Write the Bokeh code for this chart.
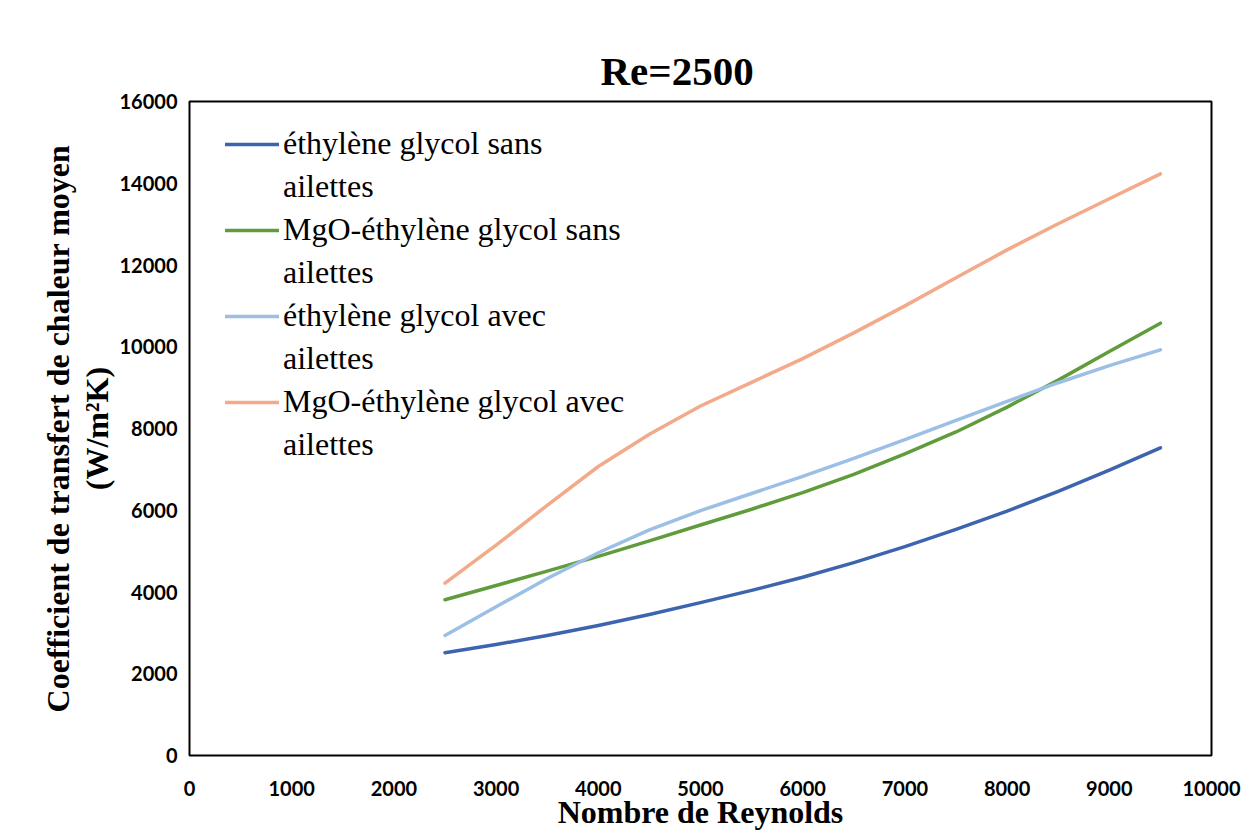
from bokeh.plotting import figure
from bokeh.models import Range1d, FixedTicker, LinearAxis, Legend, LegendItem, ColumnDataSource
from bokeh.embed import file_html
from bokeh.resources import INLINE

# ---- data ----
reynolds = [2500, 3000, 3500, 4000, 4500, 5000, 5500, 6000, 6500, 7000, 7500, 8000, 8500, 9000, 9500]
eg_sans = [2513, 2715, 2935, 3180, 3450, 3740, 4040, 4360, 4720, 5110, 5530, 5980, 6460, 6980, 7528]
mgo_eg_sans = [3809, 4160, 4510, 4870, 5250, 5640, 6025, 6430, 6880, 7380, 7915, 8524, 9184, 9884, 10576]
eg_avec = [2936, 3640, 4330, 4960, 5520, 5990, 6410, 6830, 7270, 7730, 8200, 8665, 9120, 9540, 9925]
mgo_eg_avec = [4215, 5145, 6120, 7070, 7860, 8550, 9130, 9710, 10340, 11000, 11690, 12370, 13010, 13620, 14231]

series_labels = ["éthylène glycol sans", "MgO-éthylène glycol sans",
                 "éthylène glycol avec", "MgO-éthylène glycol avec"]
series_labels2 = ["ailettes", "ailettes", "ailettes", "ailettes"]
series_values = [eg_sans, mgo_eg_sans, eg_avec, mgo_eg_avec]
series_colors = ["#3D64AE", "#619C3C", "#9BBFE5", "#F2AA8A"]

x_ticks = [0, 1000, 2000, 3000, 4000, 5000, 6000, 7000, 8000, 9000, 10000]
y_ticks = [0, 2000, 4000, 6000, 8000, 10000, 12000, 14000, 16000]

p = figure(width=1250, height=835, output_backend="svg", toolbar_location=None,
           x_range=Range1d(0, 10000), y_range=Range1d(0, 16000),
           min_border_left=189, min_border_right=39, min_border_top=101, min_border_bottom=80)

p.title.text = "Re=2500"
p.title.align = "left"
p.title.text_font = "Liberation Serif"
p.title.text_font_style = "bold"
p.title.text_font_size = "41px"
p.title.text_color = "black"
p.title.offset = 411
p.title.standoff = 16

p.xgrid.visible = False
p.ygrid.visible = False
p.outline_line_color = "black"
p.outline_line_width = 2
p.background_fill_color = "white"
p.border_fill_color = "white"

tick_font = "Lato"
for ax in (p.xaxis[0], p.yaxis[0]):
    ax.axis_line_color = None
    ax.major_tick_line_color = None
    ax.minor_tick_line_color = None
    ax.major_tick_out = 0
    ax.major_tick_in = 0
    ax.minor_tick_out = 0
    ax.minor_tick_in = 0
    ax.major_label_text_font = tick_font
    ax.major_label_text_font_style = "bold"
    ax.major_label_text_font_size = "20px"
    ax.major_label_text_color = "black"
    ax.axis_label_text_font = "Liberation Serif"
    ax.axis_label_text_font_style = "bold"
    ax.axis_label_text_font_size = "32px"
    ax.axis_label_text_color = "black"

p.xaxis[0].ticker = FixedTicker(ticks=x_ticks)
p.yaxis[0].ticker = FixedTicker(ticks=y_ticks)
p.xaxis[0].major_label_standoff = 25
p.xaxis[0].axis_label = "Nombre de Reynolds"
p.xaxis[0].axis_label_standoff = -5
p.yaxis[0].major_label_standoff = 12
p.yaxis[0].axis_label = "(W/m²K)"
p.yaxis[0].axis_label_standoff = 2

outer = LinearAxis(ticker=FixedTicker(ticks=[]), axis_label="Coefficient de transfert de chaleur moyen")
outer.axis_line_color = None
outer.major_tick_line_color = None
outer.minor_tick_line_color = None
outer.major_tick_out = 0
outer.minor_tick_out = 0
outer.major_label_text_font_size = "0px"
outer.major_label_standoff = 0
outer.axis_label_text_font = "Liberation Serif"
outer.axis_label_text_font_style = "bold"
outer.axis_label_text_font_size = "32px"
outer.axis_label_text_color = "black"
outer.axis_label_standoff = 0
p.add_layout(outer, "left")

items = []
for lab1, lab2, vals, col in zip(series_labels, series_labels2, series_values, series_colors):
    src = ColumnDataSource(dict(x=reynolds, y=vals))
    r = p.line("x", "y", source=src, line_color=col, line_width=3.5, line_cap="round", line_join="round")
    dummy = p.line(x=[], y=[], line_alpha=0)
    items.append(LegendItem(label=lab1, renderers=[r]))
    items.append(LegendItem(label=lab2, renderers=[dummy]))

legend = Legend(items=items, location=(36, 292))
legend.border_line_color = None
legend.background_fill_alpha = 0
legend.label_text_font = "Liberation Serif"
legend.label_text_font_size = "32px"
legend.label_text_color = "black"
legend.glyph_width = 54
legend.glyph_height = 20
legend.label_standoff = 4
legend.spacing = 6
legend.padding = 0
legend.margin = 0
p.add_layout(legend, "center")

open("out.html", "w").write(file_html(p, INLINE))
